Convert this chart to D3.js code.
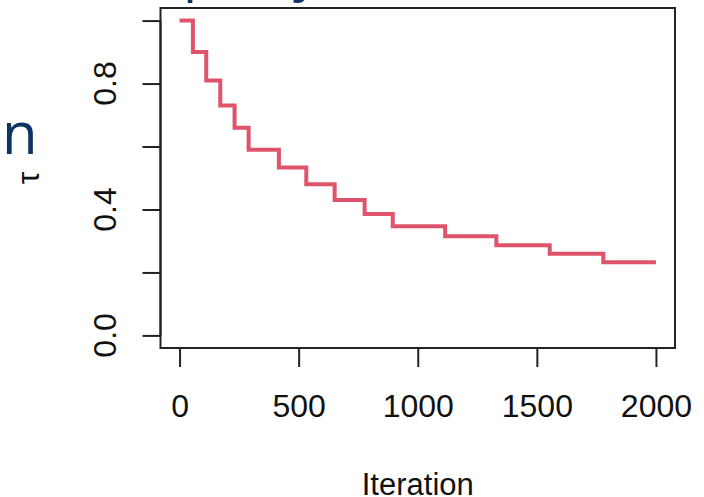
<!DOCTYPE html>
<html>
<head>
<meta charset="utf-8">
<script src="https://cdn.jsdelivr.net/npm/d3@7"></script>
<style>
  html, body { margin: 0; padding: 0; background: #fff; }
  svg { display: block; }
</style>
</head>
<body>
<div id="content"></div>
<script>
// step points: iteration where a level starts, and its value
var iterations = [0, 56, 112, 171, 231, 290, 417, 532, 651, 777, 895, 1115, 1330, 1554, 1779, 2000];
var tau_values = [1.00, 0.90, 0.81, 0.73, 0.66, 0.59, 0.533, 0.48, 0.43, 0.386, 0.347, 0.315, 0.286, 0.259, 0.232, 0.232];

var x_ticks = [0, 500, 1000, 1500, 2000];
var y_ticks = [0, 0.2, 0.4, 0.6, 0.8, 1.0];
var y_labels = [0, 0.4, 0.8];

var width = 704;
var height = 497;
var font = "'Liberation Sans', Arial, sans-serif";
var font_size = 32;
var line_colour = "#DF536B";
var slide_colour = "#0c3464";

var x = d3.scaleLinear().domain([-80, 2080]).range([160.5, 675]);
var y = d3.scaleLinear().domain([-0.04, 1.04]).range([348, 8]);

var chart = d3.select("#content")
  .append("svg")
  .attr("width", width)
  .attr("height", height);

// bits of the slide behind the plot
chart.append("text")
  .attr("x", 2)
  .attr("y", 154)
  .attr("font-family", "'Open Sans', sans-serif")
  .attr("font-size", "58px")
  .attr("fill", slide_colour)
  .text("n");

// only the descenders of the slide title reach into the picture
[[140, ","], [183, "p"], [293, "y"]].forEach(function(f) {
  chart.append("text")
    .attr("x", f[0])
    .attr("y", -11)
    .attr("font-family", "'Open Sans', sans-serif")
    .attr("font-size", "56px")
    .attr("fill", slide_colour)
    .text(f[1]);
});

// the trace
var pts = iterations.map(function(it, i) { return [it, tau_values[i]]; });
var step = d3.line()
  .x(function(d) { return x(d[0]); })
  .y(function(d) { return y(d[1]); })
  .curve(d3.curveStepAfter);

chart.append("path")
  .attr("d", step(pts))
  .attr("fill", "none")
  .attr("stroke", line_colour)
  .attr("stroke-width", 4)
  .attr("stroke-linejoin", "miter");

// box
chart.append("rect")
  .attr("x", x.range()[0])
  .attr("y", y.range()[1])
  .attr("width", x.range()[1] - x.range()[0])
  .attr("height", y.range()[0] - y.range()[1])
  .attr("fill", "none")
  .attr("stroke", "#222")
  .attr("stroke-width", 2);

// x axis
var xa = chart.append("g")
  .attr("transform", "translate(0," + y.range()[0] + ")")
  .call(d3.axisBottom(x).tickValues(x_ticks).tickSize(19).tickSizeOuter(0).tickFormat(d3.format("d")));
xa.select(".domain").attr("d", "M" + x(0) + ",0H" + x(2000)).attr("stroke", "#222").attr("stroke-width", 2);
xa.selectAll(".tick line").attr("stroke", "#222").attr("stroke-width", 2);
xa.selectAll(".tick text")
  .attr("font-family", font)
  .attr("font-size", font_size + "px")
  .attr("fill", "#111")
  .attr("dy", null)
  .attr("y", 69);

// y axis, labels turned like R does
var ya = chart.append("g")
  .attr("transform", "translate(" + x.range()[0] + ",0)")
  .call(d3.axisLeft(y).tickValues(y_ticks).tickSize(18).tickSizeOuter(0).tickFormat(""));
ya.select(".domain").attr("d", "M0," + y(0) + "V" + y(1)).attr("stroke", "#222").attr("stroke-width", 2);
ya.selectAll(".tick line").attr("stroke", "#222").attr("stroke-width", 2);

chart.selectAll(".ylab")
  .data(y_labels)
  .enter()
  .append("text")
  .attr("class", "ylab")
  .attr("transform", function(d) { return "translate(115.5," + y(d) + ") rotate(-90)"; })
  .attr("text-anchor", "middle")
  .attr("font-family", font)
  .attr("font-size", font_size + "px")
  .attr("fill", "#111")
  .text(function(d) { return d3.format(".1f")(d); });

// axis titles
chart.append("text")
  .attr("x", (x.range()[0] + x.range()[1]) / 2)
  .attr("y", 495)
  .attr("text-anchor", "middle")
  .attr("font-family", font)
  .attr("font-size", "31px")
  .attr("fill", "#111")
  .text("Iteration");

chart.append("text")
  .attr("transform", "translate(39," + (y.range()[0] + y.range()[1]) / 2 + ") rotate(-90)")
  .attr("text-anchor", "middle")
  .attr("font-family", font)
  .attr("font-size", font_size + "px")
  .attr("fill", "#111")
  .text("τ");
</script>
</body>
</html>
